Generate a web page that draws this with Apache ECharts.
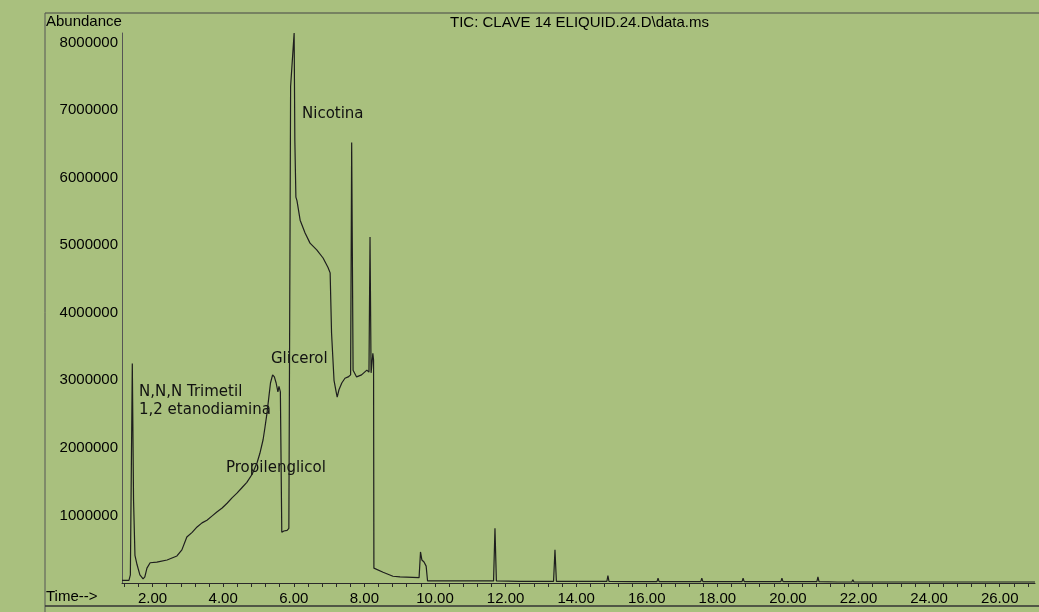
<!DOCTYPE html>
<html>
<head>
<meta charset="utf-8">
<script src="https://cdn.jsdelivr.net/npm/echarts@6/dist/echarts.min.js"></script>
<style>
html,body{margin:0;padding:0;background:#a9c07e;}
#chart{width:1039px;height:612px;}
</style>
</head>
<body>
<div id="chart"></div>
<script>
// Retention time (min)
var times = [
  1.133, 1.33, 1.37, 1.425, 1.46, 1.50, 1.56, 1.64, 1.73, 1.78, 1.84, 1.93,
  2.12, 2.41, 2.69, 2.83, 2.97, 3.12, 3.26, 3.40, 3.54, 3.68, 3.82, 3.97,
  4.11, 4.25, 4.39, 4.53, 4.67, 4.82, 4.96, 5.04, 5.13, 5.18, 5.24, 5.30,
  5.34, 5.40, 5.45, 5.50, 5.55, 5.58, 5.62, 5.66, 5.72, 5.81, 5.86, 5.91,
  6.01, 6.03, 6.06, 6.09, 6.18, 6.32, 6.46, 6.65, 6.83, 6.97, 7.03, 7.07,
  7.14, 7.20, 7.23, 7.28, 7.36, 7.45, 7.54, 7.61, 7.64, 7.68, 7.78, 7.92,
  8.07, 8.13, 8.16, 8.19, 8.24, 8.26, 8.27, 8.53, 8.81, 9.01, 9.55, 9.59,
  9.63, 9.69, 9.75, 9.79, 10.5, 11.2, 11.66, 11.70, 11.74, 12.4, 13.36, 13.40,
  13.44, 14.2, 14.87, 14.90, 14.93, 15.6, 16.29, 16.32, 16.35, 17.0, 17.53, 17.56,
  17.59, 18.2, 18.70, 18.73, 18.76, 19.3, 19.80, 19.83, 19.86, 20.4, 20.82, 20.85,
  20.88, 21.4, 21.81, 21.84, 21.87, 22.5, 22.97, 23.00, 23.03, 23.8, 24.42, 24.45,
  24.48, 25.4, 26.26, 26.29, 26.32, 27.0
];
// Abundance (counts)
var abundance = [
  40000, 40000, 120000, 3250000, 1230000, 410000, 270000, 120000, 60000, 90000, 220000, 300000,
  310000, 340000, 400000, 490000, 680000, 750000, 830000, 890000, 930000, 990000, 1050000, 1110000,
  1180000, 1260000, 1330000, 1410000, 1490000, 1610000, 1780000, 1920000, 2120000, 2290000, 2510000, 2780000,
  2960000, 3080000, 3050000, 2960000, 2830000, 2910000, 2830000, 750000, 770000, 780000, 810000, 7350000,
  8140000, 6550000, 5710000, 5660000, 5370000, 5180000, 5030000, 4930000, 4810000, 4670000, 4590000, 3700000,
  3000000, 2830000, 2750000, 2860000, 2960000, 3030000, 3050000, 3080000, 6520000, 3150000, 3050000, 3080000,
  3150000, 3120000, 5120000, 3110000, 3400000, 3300000, 220000, 160000, 100000, 90000, 80000, 460000,
  340000, 310000, 250000, 30000, 30000, 30000, 30000, 810000, 30000, 25000, 25000, 490000,
  25000, 25000, 25000, 110000, 25000, 20000, 20000, 70000, 20000, 20000, 20000, 70000,
  20000, 20000, 20000, 70000, 20000, 20000, 20000, 70000, 20000, 20000, 20000, 90000,
  20000, 15000, 15000, 50000, 15000, 15000, 15000, 40000, 15000, 15000, 15000, 40000,
  15000, 15000, 15000, 30000, 15000, 15000
];
var xTickValues = [1.2,1.6,2.0,2.4,2.8,3.2,3.6,4.0,4.4,4.8,5.2,5.6,6.0,6.4,6.8,7.2,7.6,8.0,8.4,8.8,9.2,9.6,10.0,10.4,10.8,11.2,11.6,12.0,12.4,12.8,13.2,13.6,14.0,14.4,14.8,15.2,15.6,16.0,16.4,16.8,17.2,17.6,18.0,18.4,18.8,19.2,19.6,20.0,20.4,20.8,21.2,21.6,22.0,22.4,22.8,23.2,23.6,24.0,24.4,24.8,25.2,25.6,26.0,26.4,26.8];
var xLabelValues = [2,4,6,8,10,12,14,16,18,20,22,24,26];
var yLabelValues = [1000000,2000000,3000000,4000000,5000000,6000000,7000000,8000000];
var peakNames = ['N,N,N Trimetil', '1,2 etanodiamina', 'Glicerol', 'Propilenglicol', 'Nicotina'];
var title = 'TIC: CLAVE 14 ELIQUID.24.D\\data.ms';

var seriesData = times.map(function (t, i) { return [t, abundance[i]]; });

var chart = echarts.init(document.getElementById('chart'), null, {renderer: 'canvas'});
var axisFont = {fontFamily: 'Liberation Sans, Arial, sans-serif', fontSize: 15, color: '#000'};
var annFont = 'DejaVu Sans, sans-serif';
var hdrFont = '15px Liberation Sans, Arial, sans-serif';
chart.setOption({
  backgroundColor: '#a9c07e',
  animation: false,
  grid: {left: 122, right: 4, top: 33, bottom: 29, containLabel: false},
  xAxis: {
    type: 'value', min: 1.133, max: 27.0,
    axisLine: {show: true, lineStyle: {color: '#2a2a2a', width: 1}},
    axisTick: {show: true, length: 4, customValues: xTickValues, lineStyle: {color: '#2a2a2a'}},
    axisLabel: Object.assign({customValues: xLabelValues, margin: 8,
      formatter: function (v) { return v.toFixed(2); }}, axisFont),
    splitLine: {show: false}
  },
  yAxis: {
    type: 'value', min: 0, max: 8140000,
    axisLine: {show: true, lineStyle: {color: '#555', width: 1}},
    axisTick: {show: false},
    axisLabel: Object.assign({customValues: yLabelValues, margin: 4,
      formatter: function (v) { return String(v); }}, axisFont),
    splitLine: {show: false}
  },
  series: [{
    type: 'line', data: seriesData, showSymbol: false, smooth: false,
    lineStyle: {color: '#1e1e1e', width: 1.2}, silent: true
  }],
  graphic: [
    {type: 'line', shape: {x1: 45, y1: 13, x2: 1039, y2: 13}, style: {stroke: '#444', lineWidth: 1}},
    {type: 'line', shape: {x1: 45, y1: 13, x2: 45, y2: 612}, style: {stroke: '#555', lineWidth: 1}},
    {type: 'line', shape: {x1: 45, y1: 606, x2: 1039, y2: 606}, style: {stroke: '#333', lineWidth: 1.5}},
    {type: 'text', left: 46, top: 14, style: {text: 'Abundance', font: hdrFont, fill: '#000'}},
    {type: 'text', left: 450, top: 15, style: {text: title, font: hdrFont, fill: '#000'}},
    {type: 'text', left: 46, top: 589, style: {text: 'Time-->', font: hdrFont, fill: '#000'}},
    {type: 'text', left: 139, top: 385, style: {text: peakNames[0], font: '15px ' + annFont, fill: '#111'}},
    {type: 'text', left: 139, top: 403, style: {text: peakNames[1], font: '15px ' + annFont, fill: '#111'}},
    {type: 'text', left: 271, top: 352, style: {text: peakNames[2], font: '15px ' + annFont, fill: '#111'}},
    {type: 'text', left: 226, top: 461, style: {text: peakNames[3], font: '15px ' + annFont, fill: '#111'}},
    {type: 'text', left: 302, top: 107, style: {text: peakNames[4], font: '15px ' + annFont, fill: '#111'}}
  ]
});
</script>
</body>
</html>
